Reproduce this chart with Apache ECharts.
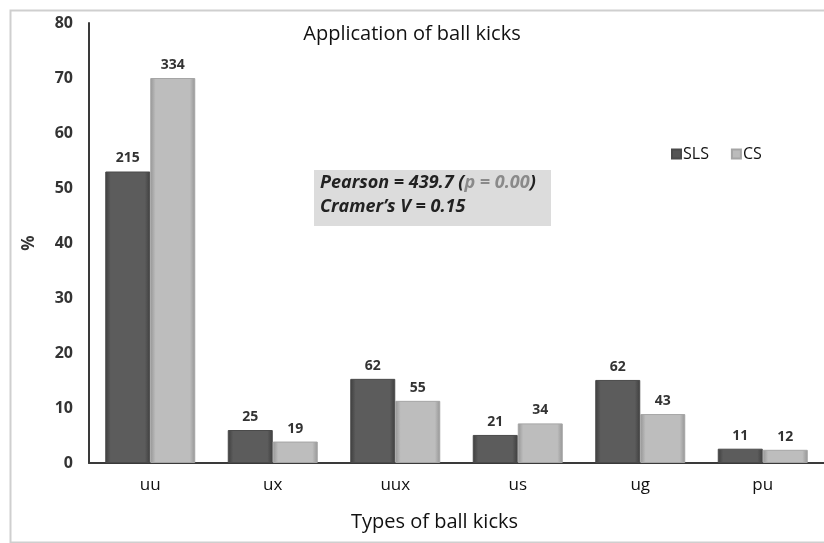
<!DOCTYPE html>
<html>
<head>
<meta charset="utf-8">
<script src="https://cdn.jsdelivr.net/npm/echarts@6/dist/echarts.min.js"></script>
<style>
  html, body { margin: 0; padding: 0; background: #fff; }
  #chart { width: 824px; height: 543px; }
</style>
</head>
<body>
<div id="chart"></div>
<script>
// Kick types on the x axis
const categories = ['uu', 'ux', 'uux', 'us', 'ug', 'pu'];
// Share of kicks (%) per group
const slsPercent = [53, 6.0, 15.3, 5.1, 15.1, 2.6];
const csPercent = [70, 3.9, 11.3, 7.2, 8.9, 2.4];
// Number of kicks per group, printed above each bar
const slsCount = [215, 25, 62, 21, 62, 11];
const csCount = [334, 19, 55, 34, 43, 12];
const yTicks = [0, 10, 20, 30, 40, 50, 60, 70, 80];

const FONT = '"Open Sans", Lato, sans-serif';

function bevel(edge, mid) {
  return new echarts.graphic.LinearGradient(0, 0, 1, 0, [
    { offset: 0, color: edge },
    { offset: 0.12, color: mid },
    { offset: 0.88, color: mid },
    { offset: 1, color: edge }
  ]);
}

const chart = echarts.init(document.getElementById('chart'), null, { renderer: 'canvas' });

const labelStyle = (counts) => ({
  show: true,
  position: 'top',
  distance: 6,
  fontFamily: FONT,
  fontSize: 14,
  fontWeight: 'bold',
  color: '#333',
  formatter: (p) => String(counts[p.dataIndex])
});

chart.setOption({
  animation: false,
  backgroundColor: '#fff',
  title: {
    text: 'Application of ball kicks',
    left: 'center',
    top: 19,
    textStyle: { fontFamily: FONT, fontSize: 20, fontWeight: 'normal', color: '#111' }
  },
  legend: {
    left: 666,
    top: 141,
    itemWidth: 9,
    itemHeight: 9,
    itemGap: 22,
    icon: 'rect',
    textStyle: { fontFamily: FONT, fontSize: 16, color: '#111', padding: [0, 0, 0, -3] },
    data: [
      { name: 'SLS', itemStyle: { color: '#555' } },
      { name: 'CS', itemStyle: { color: '#bbb' } }
    ]
  },
  grid: { left: 89, top: 23, width: 745, bottom: 80, containLabel: false },
  xAxis: {
    type: 'category',
    data: categories,
    name: 'Types of ball kicks',
    nameLocation: 'middle',
    nameGap: 49,
    nameTextStyle: { fontFamily: FONT, fontSize: 20, color: '#111', padding: [0, 44, 0, 0] },
    axisLine: { lineStyle: { color: '#3a3a3a', width: 2 } },
    axisTick: { show: false },
    axisLabel: { fontFamily: FONT, fontSize: 17, color: '#111', margin: 14 }
  },
  yAxis: {
    type: 'value',
    min: yTicks[0],
    max: yTicks[yTicks.length - 1],
    interval: yTicks[1] - yTicks[0],
    name: '%',
    nameLocation: 'middle',
    nameRotate: 90,
    nameGap: 51,
    nameTextStyle: { fontFamily: FONT, fontSize: 17, fontWeight: 'bold', color: '#333' },
    axisLine: { show: true, lineStyle: { color: '#3a3a3a', width: 2 } },
    axisTick: { show: false },
    splitLine: { show: false },
    axisLabel: { fontFamily: FONT, fontSize: 16, fontWeight: 'bold', color: '#333', margin: 16 }
  },
  series: [
    {
      name: 'SLS',
      type: 'bar',
      data: slsPercent,
      barWidth: 45,
      barGap: '0%',
      itemStyle: { color: bevel('#3e3e3e', '#5c5c5c'), borderColor: '#4a4a4a', borderWidth: 1 },
      label: labelStyle(slsCount)
    },
    {
      name: 'CS',
      type: 'bar',
      data: csPercent,
      barWidth: 45,
      itemStyle: { color: bevel('#959595', '#bdbdbd'), borderColor: '#a5a5a5', borderWidth: 1 },
      label: labelStyle(csCount)
    }
  ],
  graphic: [
    {
      type: 'rect',
      left: 8, top: 8, silent: true, z: -1,
      shape: { width: 830, height: 532 },
      style: { fill: 'none', stroke: '#cfcfcf', lineWidth: 2 }
    },
    {
      type: 'rect',
      left: 314, top: 170, silent: true,
      shape: { width: 237, height: 56 },
      style: { fill: '#dcdcdc' }
    },
    {
      type: 'text',
      left: 320, top: 174, silent: true,
      style: {
        text: '{b|Pearson = 439.7 (}{g|p = 0.00}{b|)}\n{b|Cramer\u2019s V = 0.15}',
        rich: {
          b: { fontFamily: FONT, fontSize: 18, fontWeight: 'bold', fontStyle: 'italic', fill: '#222', lineHeight: 24 },
          g: { fontFamily: FONT, fontSize: 18, fontWeight: 'bold', fontStyle: 'italic', fill: '#8a8a8a', lineHeight: 24 }
        }
      }
    }
  ]
});
</script>
</body>
</html>
